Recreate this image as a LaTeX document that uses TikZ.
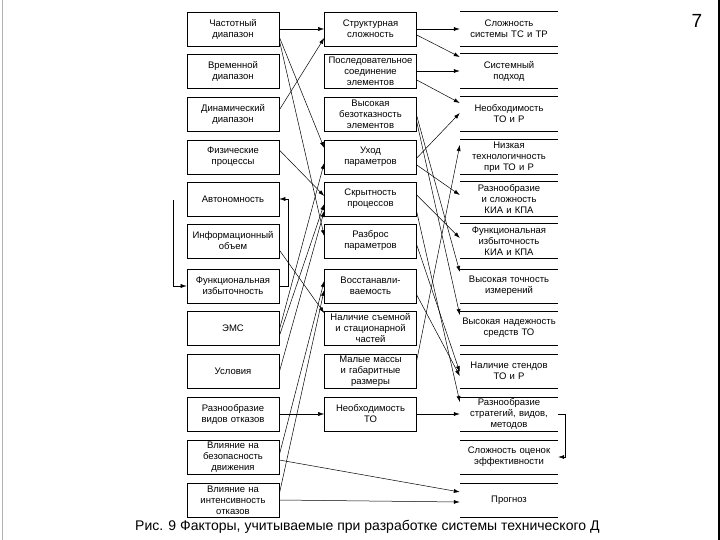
\documentclass[tikz,border=0pt]{standalone}
\usepackage{fontspec}
\setmainfont{Liberation Sans}
\usetikzlibrary{arrows.meta,calc}
\begin{document}
\begin{tikzpicture}[x=1pt,y=-1pt,
  bx/.style={draw, line width=0.6pt, minimum width=92pt, minimum height=34pt, text width=90pt, inner sep=1pt, align=center, font=\fontsize{9.5}{11}\selectfont},
  rb/.style={minimum width=98pt, minimum height=34pt, text width=96pt, inner sep=1pt, align=center, font=\fontsize{9.5}{11}\selectfont},
  ar/.style={-{Latex[length=6pt,width=4pt]}, line width=0.5pt},
  ln/.style={line width=0.6pt}]
\useasboundingbox (0,0) rectangle (720,540);
\draw[gray!60] (2,0) -- (2,540);
\draw[black, line width=1.5pt] (719,0) -- (719,540);
% left column
\node[bx] (L1) at (233,29) {Частотный\\диапазон};
\node[bx] (L2) at (233,71) {Временной\\диапазон};
\node[bx] (L3) at (233,114) {Динамический\\диапазон};
\node[bx] (L4) at (233,157) {Физические\\процессы};
\node[bx] (L5) at (233,199) {Автономность};
\node[bx] (L6) at (233,241) {Информационный\\объем};
\node[bx] (L7) at (233,286) {Функциональная\\избыточность};
\node[bx] (L8) at (233,328) {ЭМС};
\node[bx] (L9) at (233,371) {Условия};
\node[bx] (L10) at (233,414) {Разнообразие\\видов отказов};
\node[bx] (L11) at (233,457) {Влияние на\\безопасность\\движения};
\node[bx] (L12) at (233,500) {Влияние на\\интенсивность\\отказов};
% middle column
\node[bx] (M1) at (370.5,29) {Структурная\\сложность};
\node[bx] (M2) at (370.5,71) {Последовательное\\соединение\\элементов};
\node[bx] (M3) at (370.5,114) {Высокая\\безотказность\\элементов};
\node[bx] (M4) at (370.5,157) {Уход\\параметров};
\node[bx] (M5) at (370.5,199) {Скрытность\\процессов};
\node[bx] (M6) at (370.5,241) {Разброс\\параметров};
\node[bx] (M7) at (370.5,286) {Восстанавли-\\ваемость};
\node[bx] (M8) at (370.5,328) {Наличие съемной\\и стационарной\\частей};
\node[bx] (M9) at (370.5,371) {Малые массы\\и габаритные\\размеры};
\node[bx] (M10) at (370.5,414) {Необходимость\\ТО};
% right column
\node[rb] (R1) at (509,29) {Сложность\\системы ТС и ТР};
\node[rb] (R2) at (509,71) {Системный\\подход};
\node[rb] (R3) at (509,114) {Необходимость\\ТО и Р};
\node[rb] (R4) at (509,157) {Низкая\\технологичность\\при ТО и Р};
\node[rb] (R5) at (509,199) {Разнообразие\\и сложность\\КИА и КПА};
\node[rb] (R6) at (509,241) {Функциональная\\избыточность\\КИА и КПА};
\node[rb] (R7) at (509,286) {Высокая точность\\измерений};
\node[rb] (R8) at (509,328) {Высокая надежность\\средств ТО};
\node[rb] (R9) at (509,371) {Наличие стендов\\ТО и Р};
\node[rb] (R10) at (509,414) {Разнообразие\\стратегий, видов,\\методов};
\node[rb] (R11) at (509,457) {Сложность оценок\\эффективности};
\node[rb] (R12) at (509,500) {Прогноз};
\foreach \n in {R1,R2,R3,R4,R5,R6,R7,R8,R9,R10,R11,R12}
  \draw[ln] (\n.north west) -- (\n.north east) (\n.south west) -- (\n.south east);
% left -> middle
\draw[ar] (L1.east) -- (M1.west);
\draw[ar] ([yshift=4pt]L3.east) -- ([yshift=-9pt]M1.west);
\draw[ar] ([yshift=-8pt]L1.east) -- ([yshift=9pt]M4.west);
\draw[ar] ([yshift=-11pt]L1.east) -- ([yshift=5pt]M6.west);
\draw[ar] ([yshift=7pt]L4.east) -- ([yshift=3pt]M5.west);
\draw[ar] (L7.east) -- ++(9,0) |- (L5.east);
\coordinate (f0) at (173,200);
\draw[ar] (f0) |- (L7.west);
\draw[ar] ([yshift=-9pt]L6.east) -- ([yshift=15pt]M8.west);
\draw[ar] ([yshift=-8pt]L8.east) -- ([yshift=-5pt]M5.west);
\draw[ar] ([yshift=-1pt]L9.east) -- ([yshift=-12pt]M5.west);
\draw[ar] ([yshift=-2pt]L8.east) -- ([yshift=-6pt]M4.west);
\draw[ar] ([yshift=2pt]L11.east) -- ([yshift=5pt]M7.west);
\draw[ar] ([yshift=6pt]L12.east) -- ([yshift=-4pt]M7.west);
\draw[ar] (L10.east) -- (M10.west);
\draw[ar] ([yshift=-3pt]L11.east) -- ([yshift=8pt]R12.west);
\draw[ar] (L12.east) -- ([yshift=-2pt]R12.west);
% middle -> right
\draw[ar] (M1.east) -- (R1.west);
\draw[ar] ([yshift=-6pt]M1.east) -- ([yshift=14pt]R2.west);
\draw[ar] (M2.east) -- (R2.west);
\draw[ar] ([yshift=-9pt]M2.east) -- ([yshift=11pt]R3.west);
\draw[ar] ([yshift=-1pt]M4.east) -- ([yshift=1pt]R3.west);
\draw[ar] ([yshift=11pt]M9.east) -- ([yshift=12pt]R4.west);
\draw[ar] ([yshift=-8pt]M4.east) -- ([yshift=4pt]R5.west);
\draw[ar] ([yshift=4pt]M5.east) -- ([yshift=3pt]R6.west);
\draw[ar] ([yshift=-2pt]M3.east) -- ([yshift=14pt]R7.west);
\draw[ar] ([yshift=-8pt]M3.east) -- ([yshift=13pt]R8.west);
\draw[ar] ([yshift=-4pt]M6.east) -- ([yshift=-1pt]R9.west);
\draw[ar] ([yshift=-9pt]M7.east) -- ([yshift=-5pt]R9.west);
\draw[ar] ([yshift=-13pt]M5.east) -- ([yshift=12pt]R10.west);
\draw[ar] (M10.east) -- (R10.west);
\draw[ar] (R10.east) -- ++(7,0) |- (R11.east);
% caption and page number
\node[anchor=west, font=\fontsize{14}{16}\selectfont, inner sep=0pt] (cap) at (135,527) {Рис. 9 Факторы, учитываемые при разработке системы технического Д};
\node[font=\fontsize{19}{20}\selectfont, inner sep=0pt] (pg) at (697,21) {7};
\end{tikzpicture}
\end{document}
